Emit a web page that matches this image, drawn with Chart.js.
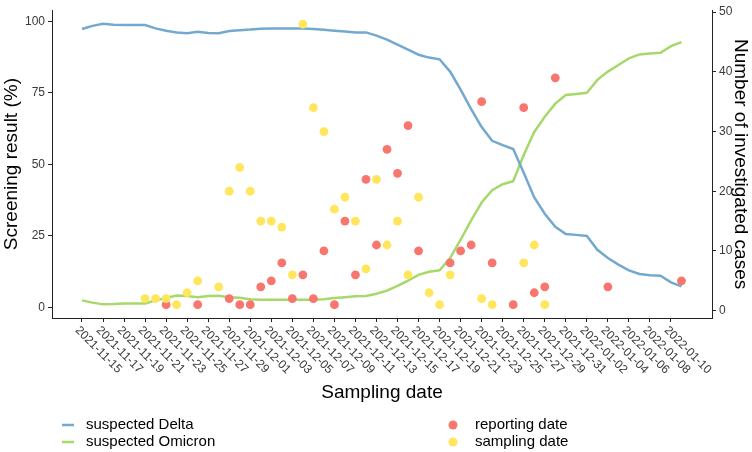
<!DOCTYPE html>
<html>
<head>
<meta charset="utf-8">
<script src="https://cdn.jsdelivr.net/npm/chart.js@4.4.0/dist/chart.umd.min.js"></script>
<style>
  html, body { margin: 0; padding: 0; background: #fff; }
  #chart { display: block; }
</style>
</head>
<body>
<canvas id="chart" width="752" height="452"></canvas>
<script>
// daily screening shares from 2021-11-15 to 2022-01-11
const startDate = '2021-11-15';
const deltaPct = [
  97.3, 98.4, 99.1, 98.8, 98.7, 98.7, 98.7, 97.5, 96.7, 96.1,
  95.8, 96.3, 95.9, 95.8, 96.6, 96.9, 97.1, 97.4, 97.5, 97.5,
  97.5, 97.5, 97.3, 97.0, 96.7, 96.4, 96.1, 96.1, 95.0, 93.6,
  91.8, 90.1, 88.3, 87.3, 86.7, 82.4, 76.1, 69.3, 63.0, 58.2,
  56.7, 55.3, 47.0, 38.4, 32.7, 28.1, 25.6, 25.3, 24.9, 20.1,
  17.2, 14.9, 12.9, 11.6, 11.2, 11.0, 8.7, 7.3
];
const omicronPct = [
  2.4, 1.6, 1.0, 1.1, 1.3, 1.3, 1.3, 2.4, 3.2, 4.1,
  3.9, 3.5, 3.9, 4.0, 3.5, 3.3, 2.8, 2.6, 2.6, 2.6,
  2.6, 2.6, 2.6, 2.8, 3.2, 3.5, 3.8, 3.9, 4.7, 5.8,
  7.5, 9.3, 11.3, 12.4, 12.9, 17.2, 23.6, 30.4, 36.6, 40.9,
  43.0, 44.1, 53.2, 61.3, 66.6, 71.2, 74.2, 74.6, 75.0, 79.5,
  82.4, 84.7, 87.0, 88.4, 88.7, 89.0, 91.3, 92.7
];

const reportingDates = [
  '2021-11-23', '2021-11-26', '2021-11-29', '2021-11-30', '2021-12-01', '2021-12-02',
  '2021-12-03', '2021-12-04', '2021-12-05', '2021-12-06', '2021-12-07', '2021-12-08',
  '2021-12-09', '2021-12-10', '2021-12-11', '2021-12-12', '2021-12-13', '2021-12-14',
  '2021-12-15', '2021-12-16', '2021-12-17', '2021-12-20', '2021-12-21', '2021-12-22',
  '2021-12-23', '2021-12-24', '2021-12-26', '2021-12-27', '2021-12-28', '2021-12-29',
  '2021-12-30', '2022-01-04', '2022-01-11'
];
const reportingCases = [
  1, 1, 2, 1, 1, 4,
  5, 8, 2, 6, 2, 10,
  1, 15, 6, 22, 11, 27,
  23, 31, 10, 8, 10, 11,
  35, 8, 1, 34, 3, 4,
  39, 4, 5
];

const samplingDates = [
  '2021-11-21', '2021-11-22', '2021-11-23', '2021-11-24', '2021-11-25', '2021-11-26',
  '2021-11-28', '2021-11-29', '2021-11-30', '2021-12-01', '2021-12-02', '2021-12-03',
  '2021-12-04', '2021-12-05', '2021-12-06', '2021-12-07', '2021-12-08', '2021-12-09',
  '2021-12-10', '2021-12-11', '2021-12-12', '2021-12-13', '2021-12-14', '2021-12-15',
  '2021-12-16', '2021-12-17', '2021-12-18', '2021-12-19', '2021-12-20', '2021-12-23',
  '2021-12-24', '2021-12-27', '2021-12-28', '2021-12-29'
];
const samplingCases = [
  2, 2, 2, 1, 3, 5,
  4, 20, 24, 20, 15, 15,
  14, 6, 48, 34, 30, 17,
  19, 15, 7, 22, 11, 15,
  6, 19, 3, 1, 6, 2,
  1, 8, 11, 1
];

const xTickLabels = [
  '2021-11-15', '2021-11-17', '2021-11-19', '2021-11-21', '2021-11-23', '2021-11-25',
  '2021-11-27', '2021-11-29', '2021-12-01', '2021-12-03', '2021-12-05', '2021-12-07',
  '2021-12-09', '2021-12-11', '2021-12-13', '2021-12-15', '2021-12-17', '2021-12-19',
  '2021-12-21', '2021-12-23', '2021-12-25', '2021-12-27', '2021-12-29', '2021-12-31',
  '2022-01-02', '2022-01-04', '2022-01-06', '2022-01-08', '2022-01-10'
];
const leftTicks = [0, 25, 50, 75, 100];
const rightTicks = [0, 10, 20, 30, 40, 50];

const FONT = '"Liberation Sans", Arial, sans-serif';
const BLUE = '#74a9cf', GREEN = '#a6d96a', RED = '#f8766d', YELLOW = '#ffe65c';
const AXIS = '#222', TICKTXT = '#3a3a3a';

function dayOf(s) {
  return (Date.parse(s) - Date.parse(startDate)) / 86400000;
}

Chart.defaults.font.family = FONT;

const decor = {
  id: 'decor',
  afterDraw(chart) {
    const {ctx, chartArea, scales} = chart;
    ctx.save();
    // rotated date labels, reading downwards
    ctx.fillStyle = TICKTXT;
    ctx.font = '12px ' + FONT;
    ctx.textAlign = 'left';
    ctx.textBaseline = 'middle';
    xTickLabels.forEach(l => {
      const x = scales.x.getPixelForValue(dayOf(l));
      ctx.save();
      ctx.translate(x - 5, chartArea.bottom + 10.5);
      ctx.rotate(Math.PI / 4);
      ctx.fillText(l, 0, 0);
      ctx.restore();
    });

    ctx.fillStyle = '#000';
    ctx.font = '19px ' + FONT;
    ctx.textAlign = 'center';
    ctx.fillText('Sampling date', (chartArea.left + chartArea.right) / 2, 393);

    // legend, two columns
    const ds = chart.data.datasets;
    ctx.font = '15px ' + FONT;
    ctx.textAlign = 'left';
    [[0, 62, 425], [1, 62, 442]].forEach(([i, x, y]) => {
      ctx.strokeStyle = ds[i].borderColor;
      ctx.lineWidth = 2.5;
      ctx.beginPath();
      ctx.moveTo(x, y);
      ctx.lineTo(x + 12, y);
      ctx.stroke();
      ctx.fillStyle = '#000';
      ctx.fillText(ds[i].label, 86, y);
    });
    [[2, 453, 425], [3, 453, 442]].forEach(([i, x, y]) => {
      ctx.fillStyle = ds[i].backgroundColor;
      ctx.beginPath();
      ctx.arc(x, y, 4.5, 0, Math.PI * 2);
      ctx.fill();
      ctx.fillStyle = '#000';
      ctx.fillText(ds[i].label, 475, y);
    });
    ctx.restore();
  }
};

new Chart(document.getElementById('chart'), {
  type: 'line',
  data: {
    datasets: [
      {
        label: 'suspected Delta',
        data: deltaPct.map((v, i) => ({x: i, y: v})),
        yAxisID: 'y',
        borderColor: BLUE,
        borderWidth: 2.5,
        pointRadius: 0,
        tension: 0,
        order: 2
      },
      {
        label: 'suspected Omicron',
        data: omicronPct.map((v, i) => ({x: i, y: v})),
        yAxisID: 'y',
        borderColor: GREEN,
        borderWidth: 2.5,
        pointRadius: 0,
        tension: 0,
        order: 2
      },
      {
        type: 'scatter',
        label: 'reporting date',
        data: reportingDates.map((d, i) => ({x: dayOf(d), y: reportingCases[i]})),
        yAxisID: 'y2',
        backgroundColor: RED,
        borderWidth: 0,
        pointRadius: 4.4,
        order: 1
      },
      {
        type: 'scatter',
        label: 'sampling date',
        data: samplingDates.map((d, i) => ({x: dayOf(d), y: samplingCases[i]})),
        yAxisID: 'y2',
        backgroundColor: YELLOW,
        borderWidth: 0,
        pointRadius: 4.4,
        order: 0
      }
    ]
  },
  options: {
    responsive: false,
    animation: false,
    devicePixelRatio: 1,
    layout: {padding: {top: 4, left: 0, right: 0, bottom: 0}},
    plugins: {legend: {display: false}, tooltip: {enabled: false}},
    scales: {
      x: {
        type: 'linear',
        min: -2.85,
        max: 59.9,
        afterBuildTicks: s => { s.ticks = xTickLabels.map(l => ({value: dayOf(l)})); },
        afterFit: s => { s.height = 134; },
        ticks: {display: false},
        grid: {drawOnChartArea: false, tickLength: 4, color: AXIS},
        border: {color: AXIS}
      },
      y: {
        position: 'left',
        min: -3.77,
        max: 103.87,
        afterBuildTicks: s => { s.ticks = leftTicks.map(v => ({value: v})); },
        afterFit: s => { s.width = 52; },
        ticks: {color: TICKTXT, font: {size: 12}, padding: 3},
        grid: {drawOnChartArea: false, tickLength: 4, color: AXIS},
        border: {color: AXIS},
        title: {display: true, text: 'Screening result (%)', color: '#000', font: {size: 19}, padding: 0}
      },
      y2: {
        position: 'right',
        min: -1.23,
        max: 50.33,
        afterBuildTicks: s => { s.ticks = rightTicks.map(v => ({value: v})); },
        afterFit: s => { s.width = 40; },
        ticks: {color: TICKTXT, font: {size: 12}, padding: 3},
        grid: {drawOnChartArea: false, tickLength: 4, color: AXIS},
        border: {color: AXIS},
        title: {display: true, text: 'Number of investigated cases', color: '#000', font: {size: 19}, padding: 0}
      }
    }
  },
  plugins: [decor]
});
</script>
</body>
</html>
